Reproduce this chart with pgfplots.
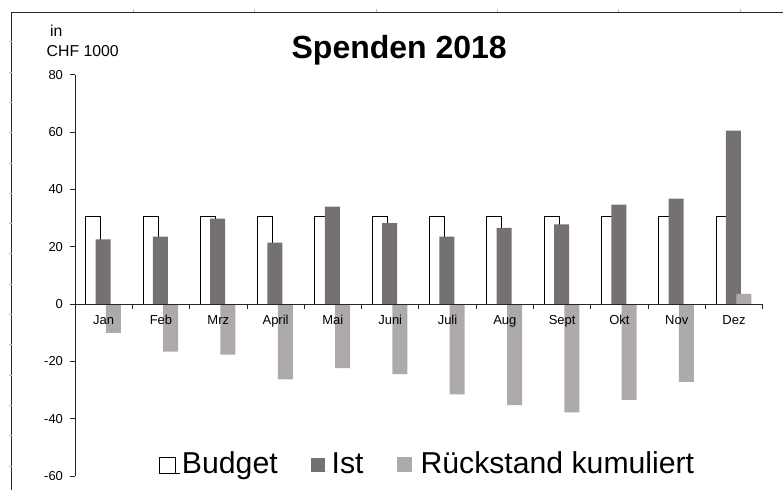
\documentclass[border=0pt]{standalone}
\usepackage{pgfplots}
\pgfplotsset{compat=1.18}
\usepackage{fontspec}
\setmainfont{Liberation Sans}
\definecolor{istc}{HTML}{767171}
\definecolor{rueckc}{HTML}{AEAAAA}
\begin{document}
\begin{tikzpicture}[x=1pt,y=1pt]
\useasboundingbox (0,0) rectangle (783,490);
% outer frame
\draw[line width=0.9pt, black!85] (11.7,0) -- (11.7,477.7) -- (783,477.7);
\foreach \xx in {133,254.5,376,497,618.5,740} \draw[black!25, line width=0.6pt] (\xx,477.7) -- (\xx,481);
\foreach \yy in {41.7,72,102.3,132.6,162.9,193.2,223.5,253.8,284.1,314.4,344.7,375,405.3,435.6,465.9} \draw[black!25, line width=0.6pt] (8.5,490-\yy) -- (11.7,490-\yy);
% title and unit
\node[anchor=base, inner sep=0pt, font=\bfseries\fontsize{32}{38}\selectfont] at (399.2,431.7) {Spenden 2018};
\node[anchor=base west, inner sep=0pt, font=\fontsize{15.8}{18}\selectfont] at (50,453) {in};
\node[anchor=base west, inner sep=0pt, font=\fontsize{15.8}{18}\selectfont] at (46.5,433.3) {CHF 1000};
\begin{axis}[
  at={(75pt,14.1pt)}, anchor=south west,
  scale only axis, width=687.7pt, height=401.1pt,
  xmin=-0.5, xmax=11.5, ymin=-60, ymax=80,
  axis on top,
  axis x line*=middle, axis y line*=left,
  xtick={0,...,11},
  xticklabels={Jan,Feb,Mrz,April,Mai,Juni,Juli,Aug,Sept,Okt,Nov,Dez},
  minor xtick={0.5,1.5,...,11.5},
  major x tick style={draw=none},
  ytick={-60,-40,...,80},
  tick align=outside, major tick length=5pt, minor tick length=5pt,
  axis line style={line width=0.9pt, black!85},
  tick style={line width=0.8pt, black!85},
  ticklabel style={font=\fontsize{13}{15}\selectfont},
  xticklabel style={yshift=-3pt},
  yticklabel style={xshift=-3.5pt},
  /pgf/number format/assume math mode=true,
  hide obscured x ticks=false, hide obscured y ticks=false,
  legend columns=3,
  legend cell align=left,
  legend style={at={(0.122,0.022)}, anchor=west, draw=none, fill=none,
    font=\fontsize{30.2}{34}\selectfont, inner sep=0pt,
    nodes={text height=0.72em, text depth=0.22em},
    /tikz/every even column/.append style={column sep=31pt}},
]
\addplot[ybar, bar width=15pt, bar shift=-10.5pt, fill=white, draw=black, line width=0.9pt,
  legend image code/.code={\draw[black, line width=0.9pt, fill=white] (0pt,-2pt) rectangle (16pt,14pt); \path (0pt,-2pt) -- (20pt,-2pt);}]
  coordinates {(0,30.4) (1,30.4) (2,30.4) (3,30.4) (4,30.4) (5,30.4) (6,30.4) (7,30.4) (8,30.4) (9,30.4) (10,30.4) (11,30.4)};
\addlegendentry{Budget}
\addplot[ybar, bar width=15pt, bar shift=-0.6pt, fill=istc, draw=none,
  legend image code/.code={\fill[istc] (0pt,-1pt) rectangle (14pt,13pt); \path (0pt,-1pt) -- (19pt,-1pt);}]
  coordinates {(0,22.6) (1,23.5) (2,29.8) (3,21.4) (4,34.0) (5,28.2) (6,23.5) (7,26.6) (8,27.8) (9,34.7) (10,36.8) (11,60.5)};
\addlegendentry{Ist}
\addplot[ybar, bar width=15pt, bar shift=9.7pt, fill=rueckc, draw=none,
  legend image code/.code={\fill[rueckc] (0pt,-1pt) rectangle (15pt,14pt); \path (0pt,-1pt) -- (22pt,-1pt);}]
  coordinates {(0,-10.1) (1,-16.6) (2,-17.7) (3,-26.3) (4,-22.4) (5,-24.5) (6,-31.5) (7,-35.3) (8,-37.8) (9,-33.5) (10,-27.2) (11,3.5)};
\addlegendentry{Rückstand kumuliert}
\end{axis}
\end{tikzpicture}
\end{document}
